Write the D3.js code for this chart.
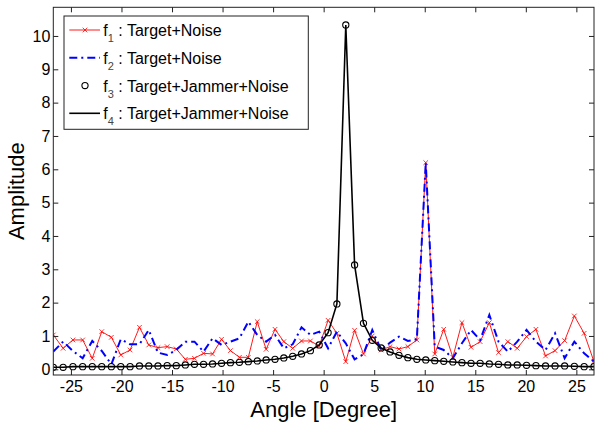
<!DOCTYPE html>
<html>
<head>
<meta charset="utf-8">
<script src="https://cdn.jsdelivr.net/npm/d3@7"></script>
<style>
  body { margin: 0; background: #fff; }
  svg { display: block; font-family: "Liberation Sans", Arial, sans-serif; }
</style>
</head>
<body>
<div id="chart"></div>
<script>
// angle grid (degrees), 60 samples
const angles = [
  -26.74, -25.77, -24.80, -23.84, -22.89, -21.95, -21.00, -20.07, -19.15, -18.22,
  -17.30, -16.39, -15.48, -14.58, -13.68, -12.78, -11.88, -10.99, -10.10, -9.22,
  -8.33, -7.45, -6.57, -5.69, -4.81, -3.94, -3.06, -2.19, -1.31, -0.44,
  0.44, 1.31, 2.19, 3.06, 3.94, 4.81, 5.69, 6.57, 7.45, 8.33,
  9.22, 10.10, 10.99, 11.88, 12.78, 13.68, 14.58, 15.48, 16.39, 17.30,
  18.22, 19.15, 20.07, 21.00, 21.95, 22.89, 23.84, 24.80, 25.77, 26.74
];

// f1 : Target+Noise
const f1 = [
  1.03, 0.63, 0.88, 0.88, 0.33, 1.13, 0.96, 0.43, 0.58, 1.26,
  0.73, 0.65, 0.68, 0.61, 0.30, 0.33, 0.48, 0.46, 0.90, 0.56,
  0.36, 0.36, 1.43, 0.60, 1.20, 0.83, 0.63, 0.85, 0.85, 0.70,
  1.47, 1.08, 0.23, 1.17, 0.46, 1.00, 0.58, 0.68, 0.61, 0.68,
  0.88, 6.20, 0.46, 1.20, 0.36, 1.40, 0.66, 0.83, 1.40, 0.50,
  0.83, 0.63, 0.98, 1.20, 0.40, 0.56, 0.86, 1.60, 1.08, 0.23
];

// f2 : Target+Noise
const f2 = [
  0.53, 0.83, 0.55, 0.33, 0.85, 0.55, 0.15, 0.90, 0.75, 0.75,
  1.18, 0.50, 0.43, 0.58, 0.83, 0.83, 0.53, 0.93, 0.73, 0.83,
  0.93, 1.43, 1.03, 0.83, 1.03, 0.63, 0.75, 1.26, 1.03, 1.13,
  0.63, 1.13, 0.78, 0.30, 0.45, 1.18, 0.58, 0.80, 0.98, 0.85,
  0.90, 6.20, 0.68, 0.58, 0.33, 0.78, 1.18, 0.88, 1.63, 0.83,
  0.53, 0.83, 1.18, 0.83, 0.58, 1.08, 0.33, 0.83, 0.48, 0.23
];

// f3 / f4 : Target+Jammer+Noise (same curve, markers and line)
const f34 = [
  0.06, 0.06, 0.08, 0.08, 0.08, 0.08, 0.08, 0.08, 0.08, 0.10,
  0.10, 0.10, 0.11, 0.11, 0.13, 0.15, 0.15, 0.16, 0.18, 0.20,
  0.21, 0.23, 0.25, 0.28, 0.30, 0.34, 0.39, 0.46, 0.56, 0.73,
  1.10, 1.96, 10.33, 3.13, 1.38, 0.87, 0.64, 0.52, 0.42, 0.35,
  0.30, 0.28, 0.26, 0.24, 0.22, 0.20, 0.18, 0.18, 0.16, 0.15,
  0.13, 0.13, 0.12, 0.11, 0.10, 0.10, 0.10, 0.09, 0.08, 0.08
];

const xTicks = [-25, -20, -15, -10, -5, 0, 5, 10, 15, 20, 25];
const yTicks = [0, 1, 2, 3, 4, 5, 6, 7, 8, 9, 10];
const legendLabels = [
  { sub: "1", text: " : Target+Noise" },
  { sub: "2", text: " : Target+Noise" },
  { sub: "3", text: " : Target+Jammer+Noise" },
  { sub: "4", text: " : Target+Jammer+Noise" }
];

const width = 595;
const height = 422;
const plot = { left: 53.3, right: 594, top: 7.3, bottom: 375 };
const axisColor = "#222";

const svg = d3.select("#chart")
  .append("svg")
  .attr("width", width)
  .attr("height", height);

const xScale = d3.scaleLinear()
  .domain([-26.744, 26.744])
  .range([plot.left, plot.right]);

const yScale = d3.scaleLinear()
  .domain([-0.171, 10.86])
  .range([plot.bottom, plot.top]);

const points = (vals) => vals.map((v, i) => [angles[i], v]);

const line = d3.line()
  .x(d => xScale(d[0]))
  .y(d => yScale(d[1]));

const clip = svg.append("clipPath").attr("id", "plotclip")
  .append("rect")
  .attr("x", plot.left).attr("y", plot.top)
  .attr("width", plot.right - plot.left)
  .attr("height", plot.bottom - plot.top);

const g = svg.append("g").attr("clip-path", "url(#plotclip)");

// f1 red line with x markers
g.append("path")
  .datum(points(f1))
  .attr("d", line)
  .attr("fill", "none")
  .attr("stroke", "#ff0000")
  .attr("stroke-width", 0.9);

const xMark = (s) => `M${-s},${-s}L${s},${s}M${-s},${s}L${s},${-s}`;

g.selectAll(".xm")
  .data(points(f1))
  .join("path")
  .attr("class", "xm")
  .attr("transform", d => `translate(${xScale(d[0])},${yScale(d[1])})`)
  .attr("d", xMark(2.3))
  .attr("stroke", "#ff0000")
  .attr("stroke-width", 0.8)
  .attr("fill", "none");

// f2 blue dash-dot
g.append("path")
  .datum(points(f2))
  .attr("d", line)
  .attr("fill", "none")
  .attr("stroke", "#0000ff")
  .attr("stroke-width", 2)
  .attr("stroke-dasharray", "8,4,2,4");

// f4 black line
g.append("path")
  .datum(points(f34))
  .attr("d", line)
  .attr("fill", "none")
  .attr("stroke", "#000")
  .attr("stroke-width", 1.6);

// f3 circles
g.selectAll(".circ")
  .data(points(f34))
  .join("circle")
  .attr("class", "circ")
  .attr("cx", d => xScale(d[0]))
  .attr("cy", d => yScale(d[1]))
  .attr("r", 3.1)
  .attr("fill", "none")
  .attr("stroke", "#000")
  .attr("stroke-width", 1.1);

// axes, ticks pointing inward
const xAxis = d3.axisBottom(xScale).tickValues(xTicks).tickSize(-5).tickPadding(6)
  .tickFormat(d => d < 0 ? "-" + Math.abs(d) : d);
const yAxis = d3.axisLeft(yScale).tickValues(yTicks).tickSize(-5).tickPadding(3);

svg.append("g")
  .attr("class", "x-axis")
  .attr("transform", `translate(0,${plot.bottom})`)
  .call(xAxis);

svg.append("g")
  .attr("class", "x-axis-top")
  .attr("transform", `translate(0,${plot.top})`)
  .call(d3.axisTop(xScale).tickValues(xTicks).tickSize(-5).tickFormat(""));

svg.append("g")
  .attr("class", "y-axis")
  .attr("transform", `translate(${plot.left},0)`)
  .call(yAxis);

svg.append("g")
  .attr("class", "y-axis-right")
  .attr("transform", `translate(${plot.right},0)`)
  .call(d3.axisRight(yScale).tickValues(yTicks).tickSize(-5).tickFormat(""));

svg.selectAll(".domain").remove();
svg.selectAll(".tick line").attr("stroke", axisColor);
svg.selectAll(".tick text")
  .attr("fill", "#000")
  .style("font-size", "16px")
  .style("font-family", "'Liberation Sans', Arial, sans-serif");

svg.append("rect")
  .attr("x", plot.left).attr("y", plot.top)
  .attr("width", plot.right - plot.left)
  .attr("height", plot.bottom - plot.top)
  .attr("fill", "none")
  .attr("stroke", axisColor)
  .attr("stroke-width", 1);

// axis labels
svg.append("text")
  .attr("x", (plot.left + plot.right) / 2)
  .attr("y", 417)
  .attr("text-anchor", "middle")
  .style("font-size", "22px")
  .text("Angle [Degree]");

svg.append("text")
  .attr("transform", `translate(24,${(plot.top + plot.bottom) / 2}) rotate(-90)`)
  .attr("text-anchor", "middle")
  .style("font-size", "22px")
  .text("Amplitude");

// legend
const legend = svg.append("g").attr("class", "legend");
legend.append("rect")
  .attr("x", 64).attr("y", 16)
  .attr("width", 244.3).attr("height", 113.3)
  .attr("fill", "#fff")
  .attr("stroke", axisColor)
  .attr("stroke-width", 1);

const rowY = d3.scalePoint().domain(d3.range(4)).range([30, 113.3]);
const sx0 = 69.3, sx1 = 100, smid = 85;

legend.append("line")
  .attr("x1", sx0).attr("x2", sx1).attr("y1", rowY(0)).attr("y2", rowY(0))
  .attr("stroke", "#ff0000").attr("stroke-width", 0.9);
legend.append("path")
  .attr("transform", `translate(${smid},${rowY(0)})`)
  .attr("d", xMark(2.3))
  .attr("stroke", "#ff0000").attr("stroke-width", 0.8);

legend.append("line")
  .attr("x1", sx0).attr("x2", sx1).attr("y1", rowY(1)).attr("y2", rowY(1))
  .attr("stroke", "#0000ff").attr("stroke-width", 2)
  .attr("stroke-dasharray", "8,4,2,4");

legend.append("circle")
  .attr("cx", smid).attr("cy", rowY(2)).attr("r", 3.1)
  .attr("fill", "none").attr("stroke", "#000").attr("stroke-width", 1.1);

legend.append("line")
  .attr("x1", sx0).attr("x2", sx1).attr("y1", rowY(3)).attr("y2", rowY(3))
  .attr("stroke", "#000").attr("stroke-width", 1.6);

legendLabels.forEach((d, i) => {
  const t = legend.append("text")
    .attr("x", 103.3)
    .attr("y", rowY(i) + 6)
    .style("font-size", "16px");
  t.append("tspan").text("f");
  t.append("tspan").attr("dy", 6).style("font-size", "11px").attr("fill", "#444").text(d.sub);
  t.append("tspan").attr("dy", -6).text(d.text);
});
</script>
</body>
</html>
